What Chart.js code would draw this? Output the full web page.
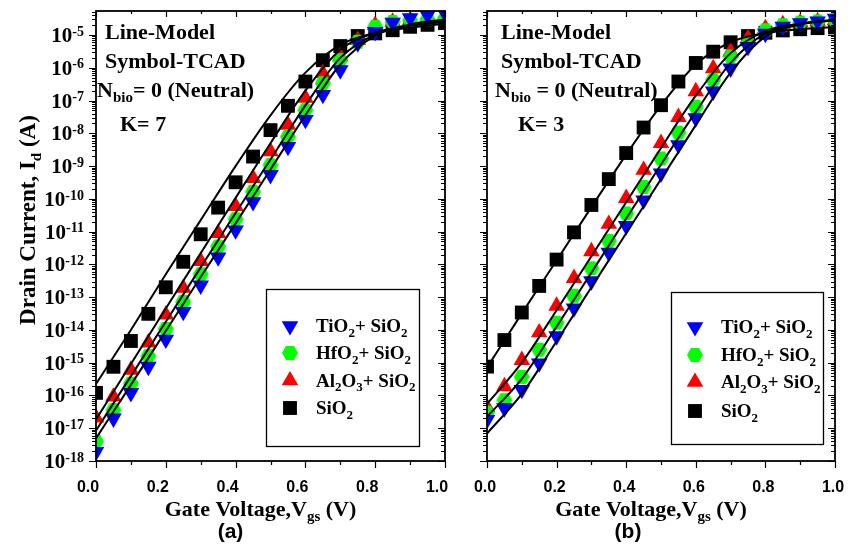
<!DOCTYPE html>
<html>
<head>
<meta charset="utf-8">
<script src="https://cdn.jsdelivr.net/npm/chart.js@4/dist/chart.umd.min.js"></script>
<style>
  body { margin: 0; background: #fff; }
  #wrap { position: relative; width: 860px; height: 548px; }
  #wrap canvas { position: absolute; top: 0; }
</style>
</head>
<body>
<div id="wrap">
  <canvas id="panelA" width="466" height="548" style="left:0"></canvas>
  <canvas id="panelB" width="394" height="548" style="left:466px"></canvas>
</div>
<script>
// Gate voltage sweep of the TCAD runs (V)
const VGS = [0, 0.05, 0.1, 0.15, 0.2, 0.25, 0.3, 0.35, 0.4, 0.45, 0.5,
             0.55, 0.6, 0.65, 0.7, 0.75, 0.8, 0.85, 0.9, 0.95, 1.0];
// Sample points of the analytical model curves (V)
const VGS_MODEL = [0, 0.1, 0.2, 0.3, 0.4, 0.5, 0.6, 0.7, 0.8, 0.9, 1.0];

// Axis ticks
const X_TICKS = [0, 0.2, 0.4, 0.6, 0.8, 1.0];
const X_TICK_LABELS = ['0.0', '0.2', '0.4', '0.6', '0.8', '1.0'];
const X_MINOR = [0.1, 0.3, 0.5, 0.7, 0.9];
const Y_TICK_EXP = [-18, -17, -16, -15, -14, -13, -12, -11, -10, -9, -8, -7, -6, -5];
const Y_MIN = 1e-18;
const Y_MAX = 5.4e-5;

// Legend entries
const SERIES_LABELS = ['TiO_{2}+ SiO_{2}', 'HfO_{2}+ SiO_{2}', 'Al_{2}O_{3}+ SiO_{2}', 'SiO_{2}'];

// Drain current (A), TCAD, K = 7
const TIO2_K7 = [1.9e-18, 2.0e-17, 1.2e-16, 7.6e-16, 5.1e-15, 3.6e-14, 2.3e-13, 1.65e-12, 1.1e-11, 8.0e-11, 5.4e-10,
                 3.9e-9, 2.6e-8, 1.5e-7, 8.5e-7, 5.6e-6, 1.26e-5, 2.4e-5, 3.3e-5, 4.0e-5, 4.6e-5];
const HFO2_K7 = [4.0e-18, 3.6e-17, 2.3e-16, 1.6e-15, 1.07e-14, 7.2e-14, 5.0e-13, 3.5e-12, 2.4e-11, 1.66e-10, 1.07e-9,
                 7.9e-9, 5.1e-8, 3.4e-7, 1.7e-6, 6.2e-6, 1.8e-5, 2.5e-5, 2.8e-5, 3.0e-5, 3.2e-5];
const AL2O3_K7 = [2.1e-17, 9.1e-17, 6.0e-16, 4.1e-15, 2.9e-14, 1.9e-13, 1.26e-12, 8.9e-12, 6.0e-11, 4.3e-10, 2.8e-9,
                  1.8e-8, 1.2e-7, 6.8e-7, 2.2e-6, 7.0e-6, 2.0e-5, 2.5e-5, 2.8e-5, 3.0e-5, 3.2e-5];
const SIO2_K7 = [1.2e-16, 7.5e-16, 4.6e-15, 3.1e-14, 2.0e-13, 1.2e-12, 8.3e-12, 5.4e-11, 3.2e-10, 1.95e-9, 1.25e-8,
                 6.9e-8, 3.8e-7, 1.7e-6, 4.6e-6, 9.3e-6, 1.12e-5, 1.4e-5, 1.78e-5, 2.04e-5, 2.3e-5];

// Drain current (A), TCAD, K = 3
const TIO2_K3 = [1.8e-17, 4.1e-17, 1.5e-16, 9.6e-16, 6.5e-15, 4.6e-14, 3.1e-13, 2.3e-12, 1.5e-11, 9.1e-11, 6.0e-10,
                 4.4e-9, 2.9e-8, 1.9e-7, 9.6e-7, 4.4e-6, 1.1e-5, 1.8e-5, 2.3e-5, 2.6e-5, 3.2e-5];
const HFO2_K3 = [3.0e-17, 7.2e-17, 3.7e-16, 2.5e-15, 1.66e-14, 1.1e-13, 7.6e-13, 5.2e-12, 3.6e-11, 2.3e-10, 1.7e-9,
                 1.05e-8, 6.5e-8, 4.3e-7, 2.2e-6, 5.6e-6, 1.4e-5, 2.0e-5, 2.4e-5, 2.6e-5, 2.8e-5];
const AL2O3_K3 = [4.4e-17, 1.9e-16, 1.2e-15, 8.3e-15, 5.4e-14, 3.8e-13, 2.5e-12, 1.7e-11, 1.05e-10, 7.6e-10, 5.0e-9,
                  3.1e-8, 1.9e-7, 9.6e-7, 3.1e-6, 7.9e-6, 1.6e-5, 2.1e-5, 2.4e-5, 2.6e-5, 2.8e-5];
const SIO2_K3 = [7.6e-16, 4.9e-15, 3.4e-14, 2.2e-13, 1.4e-12, 9.5e-12, 6.5e-11, 4.0e-10, 2.5e-9, 1.5e-8, 7.2e-8,
                 3.8e-7, 1.4e-6, 3.1e-6, 6.0e-6, 9.3e-6, 1.17e-5, 1.38e-5, 1.5e-5, 1.62e-5, 1.7e-5];

// Model curves (A), K = 7
const MODEL_TIO2_K7 = [4.9e-18, 2.1e-16, 9.3e-15, 4.1e-13, 1.78e-11, 7.9e-10, 3.55e-8, 1.26e-6, 9.5e-6, 2.1e-5, 3.0e-5];
const MODEL_HFO2_K7 = [8.5e-18, 3.9e-16, 1.78e-14, 8.1e-13, 3.7e-11, 1.58e-9, 7.1e-8, 2.0e-6, 1.05e-5, 2.0e-5, 2.75e-5];
const MODEL_AL2O3_K7 = [1.86e-17, 9.1e-16, 4.5e-14, 2.2e-12, 1.07e-10, 5.0e-9, 2.0e-7, 3.55e-6, 1.17e-5, 1.9e-5, 2.5e-5];
const MODEL_SIO2_K7 = [2.24e-16, 1.0e-14, 5.0e-13, 2.24e-11, 1.0e-9, 3.55e-8, 7.1e-7, 5.0e-6, 1.15e-5, 1.66e-5, 2.19e-5];

// Model curves (A), K = 3
const MODEL_TIO2_K3 = [6.9e-18, 1.12e-16, 4.5e-15, 2.0e-13, 8.9e-12, 4.0e-10, 1.78e-8, 7.1e-7, 8.9e-6, 2.1e-5, 3.0e-5];
const MODEL_HFO2_K3 = [2.24e-17, 3.2e-16, 1.26e-14, 5.6e-13, 2.5e-11, 1.12e-9, 4.5e-8, 1.41e-6, 1.12e-5, 2.2e-5, 2.8e-5];
const MODEL_AL2O3_K3 = [5.5e-17, 1.0e-15, 4.0e-14, 1.78e-12, 7.9e-11, 3.55e-9, 1.41e-7, 2.8e-6, 1.32e-5, 2.2e-5, 2.8e-5];
const MODEL_SIO2_K3 = [7.1e-16, 3.2e-14, 1.32e-12, 5.6e-11, 2.24e-9, 7.1e-8, 1.26e-6, 6.0e-6, 1.15e-5, 1.5e-5, 1.74e-5];

const SERIF = '"Liberation Serif", "Times New Roman", serif';
const SANS = '"Liberation Sans", Arial, sans-serif';
const BLUE = '#0000ff', GREEN = '#00ff00', RED = '#ff0000', BLACK = '#000000';

// Green hexagon marker as a sprite, used as a point style
function hexSprite(color) {
  const c = document.createElement('canvas');
  c.width = 18; c.height = 18;
  const g = c.getContext('2d');
  g.fillStyle = color;
  g.beginPath();
  for (let i = 0; i < 6; i++) {
    const a = i * Math.PI / 3;
    const px = 9 + 8 * Math.cos(a), py = 9 + 8 * Math.sin(a);
    i ? g.lineTo(px, py) : g.moveTo(px, py);
  }
  g.closePath();
  g.fill();
  return c;
}
const HEX = hexSprite(GREEN);

const MARKERS = [
  { color: BLUE, pointStyle: 'triangle', rotation: 180, radius: 9.6 },
  { color: GREEN, pointStyle: HEX, rotation: 0, radius: 9 },
  { color: RED, pointStyle: 'triangle', rotation: 0, radius: 9.6 },
  { color: BLACK, pointStyle: 'rect', rotation: 0, radius: 9.8 }
];

// text with _{sub} and ^{sup} pieces
function parseRich(s) {
  const out = [], re = /([_^])\{([^}]*)\}/g;
  let last = 0, m;
  while ((m = re.exec(s))) {
    if (m.index > last) out.push([s.slice(last, m.index), 0]);
    out.push([m[2], m[1] === '_' ? 1 : 2]);
    last = re.lastIndex;
  }
  if (last < s.length) out.push([s.slice(last), 0]);
  return out;
}

function drawRich(ctx, s, x, y, size, family, align, small) {
  const parts = parseRich(s);
  const sm = small || Math.round(size * 0.68);
  const fontOf = p => 'bold ' + (p[1] ? sm : size) + 'px ' + family;
  let w = 0;
  parts.forEach(p => { ctx.font = fontOf(p); w += ctx.measureText(p[0]).width; });
  let cx = align === 'center' ? x - w / 2 : align === 'right' ? x - w : x;
  ctx.textAlign = 'left';
  ctx.textBaseline = 'alphabetic';
  parts.forEach(p => {
    ctx.font = fontOf(p);
    const dy = p[1] === 1 ? size * 0.24 : p[1] === 2 ? -size * 0.3 : 0;
    ctx.fillText(p[0], cx, y + dy);
    cx += ctx.measureText(p[0]).width;
  });
}

function drawMarker(ctx, mk, x, y) {
  ctx.fillStyle = mk.color;
  if (mk.pointStyle === 'rect') {
    const h = mk.radius * Math.SQRT1_2;
    ctx.fillRect(x - h, y - h, 2 * h, 2 * h);
  } else if (mk.pointStyle === 'triangle') {
    const rot = mk.rotation * Math.PI / 180;
    ctx.beginPath();
    for (let i = 0; i < 3; i++) {
      const a = rot + i * 2 * Math.PI / 3;
      const px = x + Math.sin(a) * mk.radius, py = y - Math.cos(a) * mk.radius;
      i ? ctx.lineTo(px, py) : ctx.moveTo(px, py);
    }
    ctx.closePath();
    ctx.fill();
  } else {
    ctx.drawImage(mk.pointStyle, x - 9, y - 9);
  }
}

// frame, ticks, labels, annotations and legend for one panel
function decorations(p) {
  return {
    id: 'decorations',
    afterDraw(chart) {
      const ctx = chart.ctx, a = chart.chartArea;
      const xs = chart.scales.x, ys = chart.scales.y;
      ctx.save();
      ctx.strokeStyle = '#000';
      ctx.lineWidth = 1.8;
      ctx.strokeRect(a.left, a.top, a.right - a.left, a.bottom - a.top);

      // log y ticks: decades plus 2..9 minors
      ctx.lineWidth = 1.2;
      ctx.beginPath();
      Y_TICK_EXP.concat([-4]).forEach(e => {
        for (let m = 1; m <= 9; m++) {
          const v = m * Math.pow(10, e);
          if (v < Y_MIN * 0.999 || v > Y_MAX) continue;
          const y = Math.round(ys.getPixelForValue(v)) + 0.5;
          const len = m === 1 ? 7 : 4;
          ctx.moveTo(a.left - len, y); ctx.lineTo(a.left, y);
          ctx.moveTo(a.right, y); ctx.lineTo(a.right - len, y);
        }
      });
      // x ticks
      X_TICKS.concat(X_MINOR).forEach((v, i) => {
        const major = i < X_TICKS.length;
        const x = Math.round(xs.getPixelForValue(v)) + 0.5;
        ctx.moveTo(x, a.bottom); ctx.lineTo(x, a.bottom + (major ? 7 : 4));
        ctx.moveTo(x, a.top); ctx.lineTo(x, a.top + (major ? 6 : 3));
      });
      ctx.stroke();

      ctx.fillStyle = '#000';
      // x tick labels
      ctx.font = 'bold 16px ' + SANS;
      ctx.textAlign = 'center';
      ctx.textBaseline = 'alphabetic';
      X_TICKS.forEach((v, i) => {
        ctx.fillText(X_TICK_LABELS[i], xs.getPixelForValue(v) + p.xLabelShift, 492);
      });
      // y tick labels
      if (p.yLabels) {
        Y_TICK_EXP.forEach(e => {
          const y = ys.getPixelForValue(Math.pow(10, e));
          drawRich(ctx, '10^{' + e + '}', a.left - 12, y + 7, 21, SERIF, 'right', 14);
        });
        ctx.save();
        ctx.translate(35, 220);
        ctx.rotate(-Math.PI / 2);
        drawRich(ctx, 'Drain Current, I_{d} (A)', 0, 0, 23, SERIF, 'center', 15);
        ctx.restore();
      }
      // x axis title and panel tag
      const mid = (a.left + a.right) / 2;
      drawRich(ctx, 'Gate Voltage,V_{gs} (V)', mid - 10, 516, 22, SERIF, 'center', 15);
      ctx.font = 'bold 21px ' + SANS;
      ctx.textAlign = 'center';
      ctx.fillText(p.tag, mid + p.tagShift, 538);

      // annotations
      p.notes.forEach(n => drawRich(ctx, n.text, a.left + n.dx, n.y, 22, SERIF, 'left', 15));

      // legend
      const L = p.legend;
      ctx.fillStyle = '#fff';
      ctx.fillRect(L.x, L.y, L.w, L.h);
      ctx.lineWidth = 1.3;
      ctx.strokeRect(L.x + 0.5, L.y + 0.5, L.w, L.h);
      SERIES_LABELS.forEach((lab, i) => {
        const ry = L.y + L.rows[i];
        drawMarker(ctx, MARKERS[i], L.x + 24, ry);
        ctx.fillStyle = '#000';
        drawRich(ctx, lab, L.x + 50, ry + 6, 19, SERIF, 'left', 13);
      });
      ctx.restore();
    }
  };
}

function pairs(xs, ys) {
  return xs.map((x, i) => ({ x: x, y: ys[i] }));
}

function makePanel(id, p) {
  const datasets = [];
  p.model.forEach(curve => {
    datasets.push({
      data: pairs(VGS_MODEL, curve),
      borderColor: BLACK,
      borderWidth: 2,
      pointRadius: 0,
      cubicInterpolationMode: 'monotone',
      order: 0,
      clip: 0
    });
  });
  p.tcad.forEach((vals, i) => {
    const mk = MARKERS[i];
    datasets.push({
      data: pairs(VGS, vals),
      showLine: false,
      pointStyle: mk.pointStyle,
      pointRotation: mk.rotation,
      pointRadius: mk.radius,
      pointBackgroundColor: mk.color,
      pointBorderWidth: 0,
      borderColor: mk.color,
      order: i + 1,
      clip: 0
    });
  });

  new Chart(document.getElementById(id), {
    type: 'line',
    data: { datasets: datasets },
    options: {
      responsive: false,
      animation: false,
      events: [],
      layout: { padding: p.padding },
      plugins: { legend: { display: false }, tooltip: { enabled: false } },
      scales: {
        x: { type: 'linear', min: 0, max: 1, display: false },
        y: { type: 'logarithmic', min: Y_MIN, max: Y_MAX, display: false }
      }
    },
    plugins: [decorations(p)]
  });
}

makePanel('panelA', {
  padding: { left: 96, top: 11, right: 21, bottom: 87 },
  tcad: [TIO2_K7, HFO2_K7, AL2O3_K7, SIO2_K7],
  model: [MODEL_TIO2_K7, MODEL_HFO2_K7, MODEL_AL2O3_K7, MODEL_SIO2_K7],
  yLabels: true,
  xLabelShift: -8,
  tag: '(a)',
  tagShift: -40,
  notes: [
    { text: 'Line-Model', dx: 9, y: 39 },
    { text: 'Symbol-TCAD', dx: 9, y: 68 },
    { text: 'N_{bio}= 0 (Neutral)', dx: 1, y: 97 },
    { text: 'K= 7', dx: 24, y: 131 }
  ],
  legend: { x: 266, y: 289, w: 153, h: 157, rows: [37, 64, 91.5, 119] }
});

makePanel('panelB', {
  padding: { left: 21, top: 11, right: 25, bottom: 87 },
  tcad: [TIO2_K3, HFO2_K3, AL2O3_K3, SIO2_K3],
  model: [MODEL_TIO2_K3, MODEL_HFO2_K3, MODEL_AL2O3_K3, MODEL_SIO2_K3],
  yLabels: false,
  xLabelShift: -2,
  tag: '(b)',
  tagShift: -33,
  notes: [
    { text: 'Line-Model', dx: 14, y: 39 },
    { text: 'Symbol-TCAD', dx: 14, y: 68 },
    { text: 'N_{bio} = 0 (Neutral)', dx: 8, y: 97 },
    { text: 'K= 3', dx: 31, y: 131 }
  ],
  legend: { x: 205, y: 292, w: 152, h: 152, rows: [35, 63, 90, 119] }
});
</script>
</body>
</html>
